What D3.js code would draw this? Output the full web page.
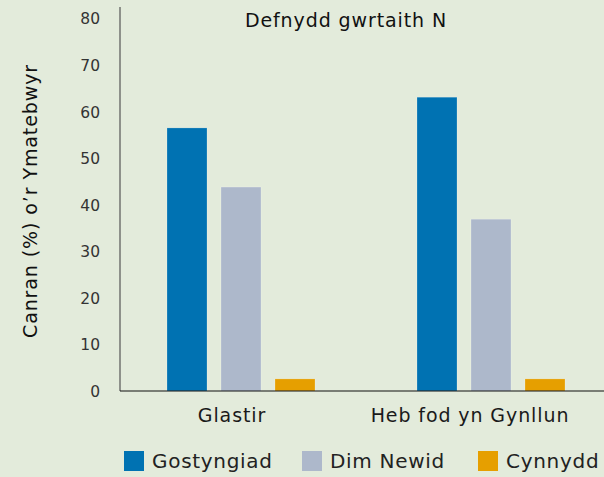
<!DOCTYPE html>
<html>
<head>
<meta charset="utf-8">
<script src="https://cdn.jsdelivr.net/npm/d3@7"></script>
<style>
  body { margin: 0; background: #e3ebdb; }
  svg { display: block; font-family: "DejaVu Sans", sans-serif; }
</style>
</head>
<body>
<svg></svg>
<script>
// categories and series
let categories = ["Glastir", "Heb fod yn Gynllun"]
let seriesNames = ["Gostyngiad", "Dim Newid", "Cynnydd"]
let gostyngiad = [56.5, 63.1]
let dimNewid = [43.8, 36.9]
let cynnydd = [2.6, 2.6]
let yTicks = [0, 10, 20, 30, 40, 50, 60, 70, 80]
let colors = ["#0072b2", "#adb8cb", "#e69f00"]

let width = 604
let height = 477

let svg = d3.select("svg").attr("width", width).attr("height", height)

svg.append("rect").attr("width", width).attr("height", height).attr("fill", "#e3ebdb")

// build rows from the arrays
let rows = categories.map((c, i) => ({
  cat: c,
  vals: [gostyngiad[i], dimNewid[i], cynnydd[i]]
}))

let x0 = d3.scaleBand().domain(categories).range([116, 616]).paddingInner(0)
let x1 = d3.scaleBand().domain(seriesNames).range([51, 199]).paddingInner(14 / 54).paddingOuter(0)
let y = d3.scaleLinear().domain([0, 80]).range([391, 18.5])

// y axis
let yAxis = d3.axisLeft(y).tickValues(yTicks).tickSize(0).tickPadding(20)
let gy = svg.append("g").attr("transform", "translate(120,0)").call(yAxis)
gy.select(".domain").remove()
gy.selectAll("text").attr("font-size", 15.5).attr("fill", "#333").attr("dy", "0.35em")
  .attr("font-family", "DejaVu Sans, sans-serif")
svg.append("line").attr("x1", 120).attr("x2", 120).attr("y1", 7).attr("y2", 391)
   .attr("stroke", "#555").attr("stroke-width", 1.2)

// bars
let groups = svg.selectAll(".grp").data(rows).enter().append("g")
  .attr("class", "grp")
  .attr("transform", d => "translate(" + x0(d.cat) + ",0)")

groups.selectAll("rect")
  .data(d => d.vals.map((v, k) => ({ name: seriesNames[k], v: v, k: k })))
  .enter().append("rect")
  .attr("x", d => x1(d.name))
  .attr("width", x1.bandwidth())
  .attr("y", d => y(d.v))
  .attr("height", d => y(0) - y(d.v))
  .attr("fill", d => colors[d.k])
  .attr("stroke", "rgba(255,255,255,0.35)")
  .attr("stroke-width", 0.6)

// x axis baseline
svg.append("line").attr("x1", 120).attr("x2", width).attr("y1", 391).attr("y2", 391)
   .attr("stroke", "#111").attr("stroke-width", 1.2)

// category labels
let labelShift = [-9, -21]
svg.selectAll(".cat").data(categories).enter().append("text")
  .attr("x", (d, i) => x0(d) + x0.bandwidth() / 2 + labelShift[i])
  .attr("y", 422)
  .attr("text-anchor", "middle")
  .attr("font-size", 19)
  .attr("letter-spacing", 0.9)
  .attr("fill", "#1a1a1a")
  .text(d => d)

// title
svg.append("text").attr("x", 346).attr("y", 27).attr("text-anchor", "middle")
   .attr("font-size", 19).attr("letter-spacing", 0.9)
   .attr("fill", "#111").text("Defnydd gwrtaith N")

// y label
svg.append("text")
   .attr("transform", "translate(37,201) rotate(-90)")
   .attr("text-anchor", "middle").attr("font-size", 19).attr("letter-spacing", 0.9)
   .attr("fill", "#111")
   .text("Canran (%) o’r Ymatebwyr")

// legend
let legX = [124, 302, 478]
let leg = svg.selectAll(".leg").data(seriesNames).enter().append("g")
  .attr("transform", (d, i) => "translate(" + legX[i] + ",451)")
leg.append("rect").attr("width", 20).attr("height", 20).attr("fill", (d, i) => colors[i])
leg.append("text").attr("x", 28).attr("y", 17).attr("font-size", 20).attr("letter-spacing", 0.7)
   .attr("fill", "#222").text(d => d)
</script>
</body>
</html>
